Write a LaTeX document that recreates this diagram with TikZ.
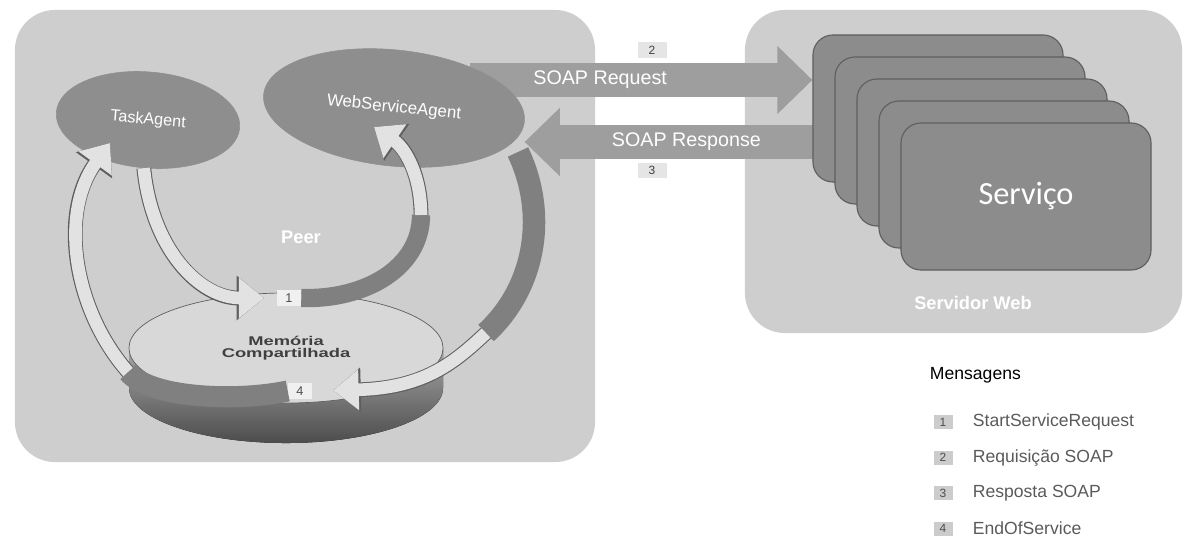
\documentclass[tikz,border=0pt]{standalone}
\usepackage{fontspec}
\setmainfont{Liberation Sans}
\newfontfamily\calfont{Carlito}
\newfontfamily\widefont[FakeStretch=1.45]{Liberation Sans}
\usetikzlibrary{shapes.geometric,arrows.meta,positioning,calc}
\pgfdeclarelayer{bg}
\pgfsetlayers{bg,main}
\definecolor{panelgray}{RGB}{206,206,206}
\definecolor{agentgray}{RGB}{142,142,142}
\definecolor{srvgray}{RGB}{140,140,140}
\definecolor{bandgray}{RGB}{158,158,158}
\definecolor{flowlight}{RGB}{226,226,226}
\definecolor{flowdark}{RGB}{128,128,128}
\definecolor{edgegray}{RGB}{95,95,95}
\definecolor{memtop}{RGB}{216,216,216}
\definecolor{legtextgray}{RGB}{90,90,90}

\begin{document}
\begin{tikzpicture}[x=0.025cm, y=-0.025cm,
panel/.style={fill=panelgray, rounded corners=1cm, inner sep=0pt},
agent/.style={ellipse, draw=edgegray!70, fill=agentgray, inner sep=0pt, text=white,
font=\fontsize{11.5}{13}\selectfont},
srv/.style={draw=edgegray, fill=srvgray, rounded corners=0.5cm, line width=0.8pt,
minimum width=6.25cm, minimum height=3.675cm},
soap/.style={draw=bandgray, line width=24pt, -{Triangle[length=25pt,width=47pt]}},
soaptext/.style={text=white, font=\fontsize{14}{16}\selectfont},
numtag/.style={fill=black!10, text=black!75, inner sep=0pt, minimum width=0.725cm,
minimum height=0.375cm, font=\fontsize{8.5}{9}\selectfont},
numbox/.style={fill=black!6, text=black!70, inner sep=0pt, minimum width=0.6cm,
minimum height=0.42cm, font=\fontsize{9}{10}\selectfont},
memdisk/.style={ellipse, draw=edgegray, line width=0.5pt, fill=memtop, minimum width=7.85cm,
minimum height=2.75cm, align=center, text=black!75,
font=\widefont\bfseries\fontsize{9}{9.5}\selectfont},
memside/.style={top color=black!35, bottom color=black!70},
lightflow/.style={draw=flowlight, line width=9pt, -{Triangle[length=18pt,width=28pt]},
preaction={draw=edgegray, line width=10.5pt, -{Triangle[length=19.5pt,width=30.5pt]}}},
darkflow/.style={draw=flowdark, line width=13pt},
whitebold/.style={text=white, font=\bfseries\fontsize{13}{15}\selectfont},
legbox/.style={fill=black!20, text=black!70, inner sep=0pt, minimum width=0.475cm,
minimum height=0.35cm, font=\fontsize{8.5}{9}\selectfont},
legtext/.style={text=legtextgray, inner sep=1pt, font=\fontsize{12.5}{14}\selectfont}
]
\useasboundingbox (0,0) rectangle (1188,546);

% panels
\begin{pgfonlayer}{bg}
\node[panel, minimum width=14.5cm, minimum height=11.3cm] (peer) at (305,236) {};
\node[panel, minimum width=10.925cm, minimum height=8.075cm] (websrv) at (963.5,171.5) {};
\end{pgfonlayer}

% web server
\foreach \i in {0,...,4}
  \node[srv] (srv\i) at ({938+22*\i},{108.5+22*\i}) {};
\node[text=white, font=\calfont\fontsize{23}{26}\selectfont] (srvname) at (srv4) {Serviço};
\node[whitebold] (websrvname) at (973,303) {Servidor Web};

% agents
\node[agent, minimum width=4.6cm, minimum height=2.4cm, rotate=-5] (ta) at (148,120) {TaskAgent};
\node[agent, minimum width=6.55cm, minimum height=2.9cm, rotate=-6,
font=\fontsize{12}{14}\selectfont] (wsa) at (394,108) {WebServiceAgent};

% SOAP messages
\begin{pgfonlayer}{bg}
\coordinate (reqs) at (470,80);
\coordinate (ress) at (840,142);
\draw[soap] (reqs) -- node[soaptext, pos=0.38] (reqtxt) {SOAP Request} (srv0.west |- reqs);
\draw[soap] (ress) -- node[soaptext, pos=0.487] (restxt) {SOAP Response} (wsa.east |- ress);
\end{pgfonlayer}
\node[numtag] (tag2) at (652,50) {2};
\node[numtag] (tag3) at (652,170) {3};

% shared memory
\fill[memside] (129,348) -- (129,388) arc[start angle=180, end angle=360,
x radius=3.925cm, y radius=1.375cm] -- (443,348) -- cycle;
\node[memdisk] (mem) at (286,348) {Memória\\[-1pt]Compartilhada};
\node[whitebold] (peerlabel) at (301,237) {Peer};

\node[numbox] (one) at (289,298) {1};
\node[numbox] (four) at (300,391) {4};

% internal messages
\coordinate (a2m) at (421,215);
\coordinate (a2tip) at (374,127);
\coordinate (a3s) at (518,152);
\coordinate (a3m) at (486,333);
\coordinate (a4m) at (128,372);
\coordinate (a4tip) at (110,143);

\draw[lightflow, shorten >=9pt] (ta.south) .. controls (152,250) and (200,298) .. (one.west);

\draw[darkflow] (one.east) .. controls (365,300) and (421,268) .. (a2m);
\draw[lightflow] (a2m) .. controls (421,175) and (405,148) .. (a2tip);

\draw[darkflow, line width=16pt] (a3s) .. controls (548,215) and (535,288) .. (a3m);
\draw[lightflow, shorten >=15pt] (a3m) .. controls (455,362) and (425,388) .. (four.east);

\draw[darkflow, line width=15pt] (four.west) .. controls (235,402) and (150,398) .. (a4m);
\draw[lightflow] (a4m) .. controls (75,312) and (58,215) .. (a4tip);

% legend
\node[anchor=west, font=\fontsize{12.5}{14}\selectfont] (msgs) at (925,375) {Mensagens};
\foreach \n/\t in {1/StartServiceRequest, 2/Requisição SOAP, 3/Resposta SOAP, 4/EndOfService} {
  \node[legbox] (lb\n) at (943,{422+35.5*(\n-1)}) {\n};
  \node[legtext, right=0.46cm of lb\n] (lt\n) {\t};
}
\end{tikzpicture}
\end{document}
